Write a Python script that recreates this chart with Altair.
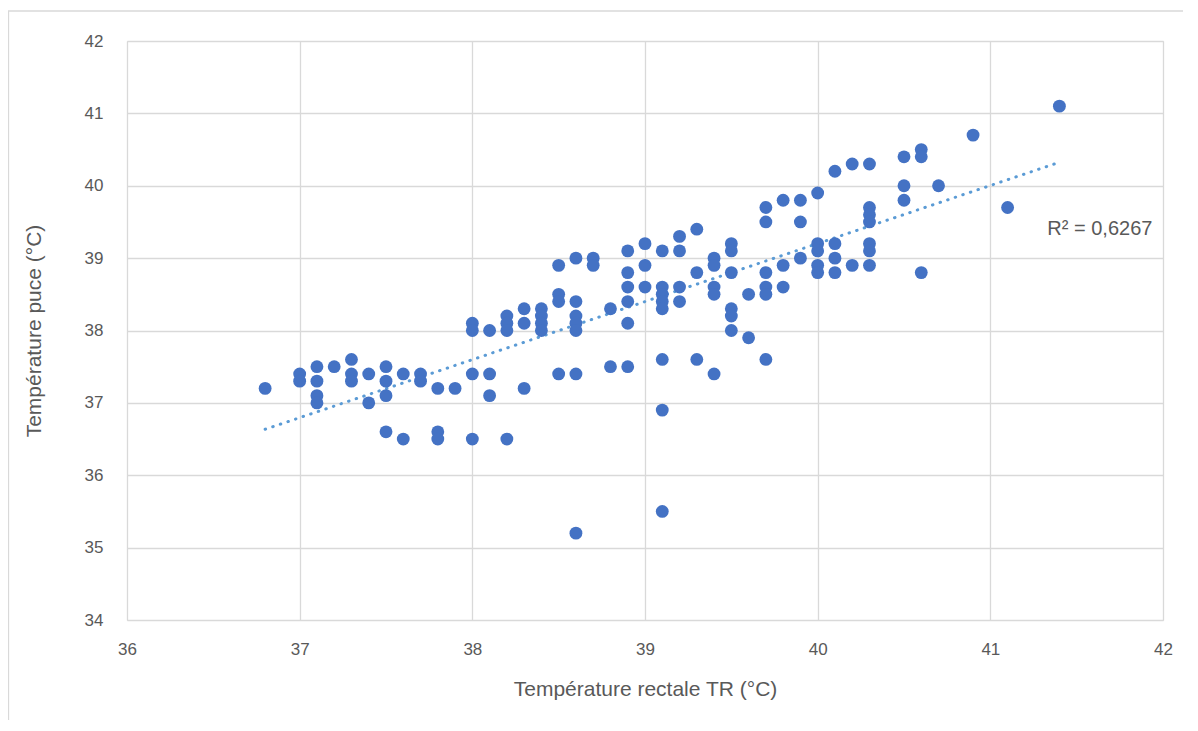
import altair as alt
import pandas as pd

# Température rectale TR (°C)
tr = [
    36.8,
    37.0, 37.0,
    37.1, 37.1, 37.1, 37.1,
    37.2,
    37.3, 37.3, 37.3,
    37.4, 37.4,
    37.5, 37.5, 37.5, 37.5,
    37.6, 37.6,
    37.7, 37.7,
    37.8, 37.8, 37.8,
    37.9,
    38.0, 38.0, 38.0, 38.0,
    38.1, 38.1, 38.1,
    38.2, 38.2, 38.2, 38.2,
    38.3, 38.3, 38.3,
    38.4, 38.4, 38.4, 38.4,
    38.5, 38.5, 38.5, 38.5,
    38.6, 38.6, 38.6, 38.6, 38.6, 38.6, 38.6,
    38.7, 38.7,
    38.8, 38.8,
    38.9, 38.9, 38.9, 38.9, 38.9, 38.9,
    39.0, 39.0, 39.0,
    39.1, 39.1, 39.1, 39.1, 39.1, 39.1, 39.1, 39.1,
    39.2, 39.2, 39.2, 39.2,
    39.3, 39.3, 39.3,
    39.4, 39.4, 39.4, 39.4, 39.4,
    39.5, 39.5, 39.5, 39.5, 39.5, 39.5,
    39.6, 39.6,
    39.7, 39.7, 39.7, 39.7, 39.7, 39.7,
    39.8, 39.8, 39.8,
    39.9, 39.9, 39.9,
    40.0, 40.0, 40.0, 40.0, 40.0,
    40.1, 40.1, 40.1, 40.1,
    40.2, 40.2,
    40.3, 40.3, 40.3, 40.3, 40.3, 40.3, 40.3,
    40.5, 40.5, 40.5,
    40.6, 40.6, 40.6,
    40.7,
    40.9,
    41.1,
    41.4,
]

# Température puce (°C)
puce = [
    37.2,
    37.4, 37.3,
    37.5, 37.3, 37.1, 37.0,
    37.5,
    37.6, 37.4, 37.3,
    37.4, 37.0,
    37.5, 37.3, 37.1, 36.6,
    37.4, 36.5,
    37.4, 37.3,
    37.2, 36.6, 36.5,
    37.2,
    38.1, 38.0, 37.4, 36.5,
    38.0, 37.4, 37.1,
    38.2, 38.1, 38.0, 36.5,
    38.3, 38.1, 37.2,
    38.3, 38.2, 38.1, 38.0,
    38.9, 38.5, 38.4, 37.4,
    39.0, 38.4, 38.2, 38.1, 38.0, 37.4, 35.2,
    39.0, 38.9,
    38.3, 37.5,
    39.1, 38.8, 38.6, 38.4, 38.1, 37.5,
    39.2, 38.9, 38.6,
    39.1, 38.6, 38.5, 38.4, 38.3, 37.6, 36.9, 35.5,
    39.3, 39.1, 38.6, 38.4,
    39.4, 38.8, 37.6,
    39.0, 38.9, 38.6, 38.5, 37.4,
    39.2, 39.1, 38.8, 38.3, 38.2, 38.0,
    38.5, 37.9,
    39.7, 39.5, 38.8, 38.6, 38.5, 37.6,
    39.8, 38.9, 38.6,
    39.8, 39.5, 39.0,
    39.9, 39.2, 39.1, 38.9, 38.8,
    40.2, 39.2, 39.0, 38.8,
    40.3, 38.9,
    40.3, 39.7, 39.6, 39.5, 39.2, 39.1, 38.9,
    40.4, 40.0, 39.8,
    40.5, 40.4, 38.8,
    40.0,
    40.7,
    39.7,
    41.1,
]

r2_label = ["R² = 0,6267"]
r2_x = [41.33]
r2_y = [39.4]

x_title = "Température rectale TR (°C)"
y_title = "Température puce (°C)"

FONT = "Liberation Sans"
LABEL_COLOR = "#595959"
GRID = "#d9d9d9"

df = pd.DataFrame({"tr": tr, "puce": puce})
ann = pd.DataFrame({"label": r2_label, "x": r2_x, "y": r2_y})

xscale = alt.Scale(domain=[36, 42], nice=False, zero=False)
yscale = alt.Scale(domain=[34, 42], nice=False, zero=False)

xaxis = alt.Axis(
    title=x_title, values=[36, 37, 38, 39, 40, 41, 42], format="d", labelFlush=False,
    grid=True, gridColor=GRID, gridWidth=1.3, domain=False, ticks=False,
    labelFontSize=17, labelColor=LABEL_COLOR, labelPadding=21, titleFontSize=21,
    titleColor=LABEL_COLOR, titleFontWeight="normal", titlePadding=21,
    labelFont=FONT, titleFont=FONT,
)
yaxis = alt.Axis(
    title=y_title, values=list(range(34, 43)), format="d", labelFlush=False,
    grid=True, gridColor=GRID, gridWidth=1.3, domain=False, ticks=False,
    labelFontSize=17, labelColor=LABEL_COLOR, labelPadding=24, titleFontSize=21,
    titleColor=LABEL_COLOR, titleFontWeight="normal", titlePadding=40,
    labelFont=FONT, titleFont=FONT,
)

points = alt.Chart(df).mark_circle(size=165, opacity=1, color="#4472C4").encode(
    x=alt.X("tr:Q", scale=xscale, axis=xaxis),
    y=alt.Y("puce:Q", scale=yscale, axis=yaxis),
)

trend = alt.Chart(df).transform_regression("tr", "puce").mark_line(
    color="#5B9BD5", strokeWidth=3, strokeDash=[0.5, 7.5], strokeCap="round"
).encode(
    x=alt.X("tr:Q", scale=xscale),
    y=alt.Y("puce:Q", scale=yscale),
)

label = alt.Chart(ann).mark_text(
    align="left", baseline="middle", fontSize=20, color=LABEL_COLOR, font=FONT
).encode(
    x=alt.X("x:Q", scale=xscale),
    y=alt.Y("y:Q", scale=yscale),
    text="label:N",
)

# light frame of the chart area (top and left edges)
frame_top = alt.Chart(ann).mark_rule(color=GRID, strokeWidth=1.3).encode(
    x=alt.value(-119), x2=alt.value(1056), y=alt.value(-30)
)
frame_left = alt.Chart(ann).mark_rule(color=GRID, strokeWidth=1.3).encode(
    x=alt.value(-118.5), y=alt.value(-30), y2=alt.value(700)
)

chart = (
    alt.layer(frame_top, frame_left, trend, points, label)
    .properties(
        width=1036,
        height=579,
        autosize=alt.AutoSizeParams(type="none"),
        padding={"left": 119, "top": 33, "right": 20, "bottom": 100},
    )
    .configure_view(stroke=None)
    .configure(background="white")
)

chart.save("out.html", embed_options={"renderer": "svg", "actions": False})
